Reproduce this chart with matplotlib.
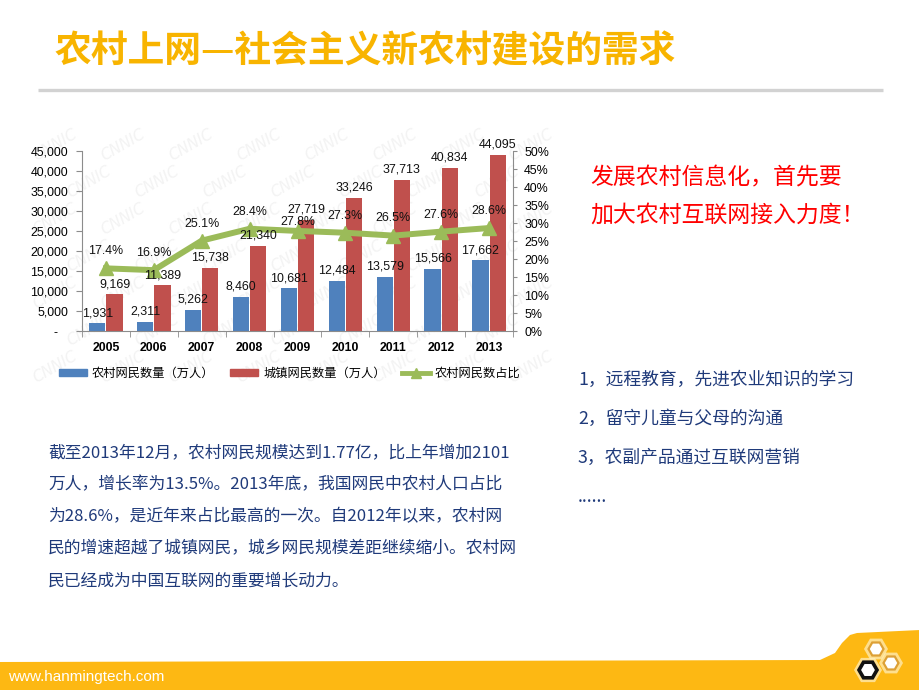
import numpy as np
import matplotlib.pyplot as plt
from matplotlib.patches import Polygon, RegularPolygon, Patch
from matplotlib.lines import Line2D
from matplotlib.ticker import FuncFormatter, MultipleLocator

plt.rcParams['font.family'] = ['Noto Sans CJK SC', 'DejaVu Sans']

# chart data (万人 / %)
years = ['2005', '2006', '2007', '2008', '2009', '2010', '2011', '2012', '2013']
rural_users = [1931, 2311, 5262, 8460, 10681, 12484, 13579, 15566, 17662]
urban_users = [9169, 11389, 15738, 21340, 27719, 33246, 37713, 40834, 44095]
rural_share = [17.4, 16.9, 25.1, 28.4, 27.8, 27.3, 26.5, 27.6, 28.6]
legend_labels = ['农村网民数量（万人）', '城镇网民数量（万人）', '农村网民数占比']

# slide text
title = '农村上网—社会主义新农村建设的需求'
slogan = ['发展农村信息化，首先要', '加大农村互联网接入力度！']
uses = ['1，远程教育，先进农业知识的学习', '2，留守儿童与父母的沟通',
        '3，农副产品通过互联网营销', '......']
summary = ['截至2013年12月，农村网民规模达到1.77亿，比上年增加2101',
           '万人，增长率为13.5%。2013年底，我国网民中农村人口占比',
           '为28.6%，是近年来占比最高的一次。自2012年以来，农村网',
           '民的增速超越了城镇网民，城乡网民规模差距继续缩小。农村网',
           '民已经成为中国互联网的重要增长动力。']
site = 'www.hanmingtech.com'

BLUE, RED, GREEN = '#4F81BD', '#C0504D', '#9BBB59'
GOLD = '#F8B400'
NAVY = '#1F3A7A'
GRAY = '#8C8C8C'

fig = plt.figure(figsize=(9.2, 6.9), dpi=100)

# slide background in pixel coords
bg = fig.add_axes([0, 0, 1, 1], zorder=-10)
bg.set_xlim(0, 920)
bg.set_ylim(690, 0)
bg.axis('off')

bg.text(55, 52, title, fontsize=26.5, fontweight='heavy', color=GOLD,
        va='center', ha='left')
bg.plot([38, 883], [90, 90], color='#D2D2D2', lw=2.4, solid_capstyle='butt')

# faint watermark behind the chart
for row in range(7):
    for col in range(8):
        wx = 55 + col * 68 + (row % 2) * 34
        wy = 145 + row * 37
        if wx < 555:
            bg.text(wx, wy, 'CNNIC', fontsize=11, color='#F3F3F3', rotation=30,
                    fontstyle='italic', ha='center', va='center',
                    family='DejaVu Sans')

for i, line in enumerate(slogan):
    bg.text(590, 178 + 37 * i, line, fontsize=16.5, color='#FF0000', va='center')

for i, line in enumerate(uses):
    bg.text(578, 380 + 39 * i, line, fontsize=12.8, color=NAVY, va='center')

for i, line in enumerate(summary):
    bg.text(48, 453 + 32 * i, line, fontsize=12.1, color=NAVY, va='center')

# footer band + logo
band = Polygon([(0, 662), (820, 660), (835, 653), (842, 643), (850, 635),
                (857, 633), (920, 630), (920, 690), (0, 690)],
               closed=True, facecolor='#FDB813', edgecolor='none')
bg.add_patch(band)
bg.text(8, 677, site, color='white', fontsize=11, family='Liberation Sans', va='center')
for cx, cy, r in [(876, 649, 12), (891, 663, 12), (868, 670, 14)]:
    bg.add_patch(RegularPolygon((cx, cy), 6, radius=r, orientation=np.pi / 6,
                                facecolor='#FFF1C4', edgecolor='none', alpha=0.7))
for cx, cy in [(876, 649), (891, 663)]:
    bg.add_patch(RegularPolygon((cx, cy), 6, radius=7.5, orientation=np.pi / 6,
                                facecolor='white', edgecolor='#DDA035', lw=1.6))
bg.add_patch(RegularPolygon((868, 670), 6, radius=9, orientation=np.pi / 6,
                            facecolor='white', edgecolor='#111111', lw=2.6))

# chart
ax = fig.add_axes([82 / 920, 1 - 331 / 690, 431 / 920, 180 / 690])
ax.set_facecolor('none')
ax2 = ax.twinx()

x = np.arange(len(years))
w = 0.34
ax.bar(x - 0.18, rural_users, w, color=BLUE, zorder=2)
ax.bar(x + 0.18, urban_users, w, color=RED, zorder=2)
ax.set_xlim(-0.5, len(years) - 0.5)
ax.set_ylim(0, 45000)
ax.yaxis.set_major_locator(MultipleLocator(5000))
ax.yaxis.set_major_formatter(FuncFormatter(lambda v, p: '-   ' if v == 0 else f'{v:,.0f}'))

ax2.plot(x, rural_share, color=GREEN, lw=4.3, marker='^', ms=10, zorder=3)
ax2.set_ylim(0, 50)
ax2.yaxis.set_major_locator(MultipleLocator(5))
ax2.yaxis.set_major_formatter(FuncFormatter(lambda v, p: f'{v:.0f}%'))

# the 2009 share label sits lower so it clears the bar label above it
share_nudge = {4: -6}

lbl = dict(ha='center', va='bottom', fontsize=8.9, family='Liberation Sans',
           textcoords='offset points', color='#111111')
for i in range(len(years)):
    ax2.annotate(f'{rural_users[i]:,}', xy=(x[i] - 0.18, rural_users[i]),
                 xycoords=ax.transData, xytext=(0, 3), **lbl)
    ax2.annotate(f'{urban_users[i]:,}', xy=(x[i] + 0.18, urban_users[i]),
                 xycoords=ax.transData, xytext=(0, 3), **lbl)
    ax2.annotate(f'{rural_share[i]}%', xy=(x[i], rural_share[i]),
                 xytext=(0, 8 + share_nudge.get(i, 0)), **lbl)

ax.set_xticks(x)
ax.set_xticklabels(years, fontweight='bold', fontsize=8.8, family='Liberation Sans')
ax.set_xticks(np.arange(-0.5, len(years)), minor=True)
ax.tick_params(axis='x', which='major', length=0, pad=8)
ax.tick_params(axis='x', which='minor', length=4, color=GRAY)
ax.tick_params(axis='y', length=4, color=GRAY, pad=6, labelsize=8.9)
ax2.tick_params(axis='y', length=3, color=GRAY, pad=5, labelsize=8.9)
for t in ax.get_yticklabels() + ax2.get_yticklabels():
    t.set_family('Liberation Sans')

for s in ['top', 'right']:
    ax.spines[s].set_visible(False)
for s in ['top', 'left', 'bottom']:
    ax2.spines[s].set_visible(False)
for a in (ax, ax2):
    for s in a.spines.values():
        s.set_color(GRAY)

handles = [Patch(color=BLUE), Patch(color=RED),
           Line2D([], [], color=GREEN, lw=3.5, marker='^', ms=7)]
ax.legend(handles, legend_labels, ncol=3, loc='center', bbox_to_anchor=(0.482, -0.233),
          frameon=False, fontsize=8.8, handlelength=2.3, handleheight=0.5,
          handletextpad=0.4, columnspacing=1.3)

fig.savefig('out.png', dpi=100)
